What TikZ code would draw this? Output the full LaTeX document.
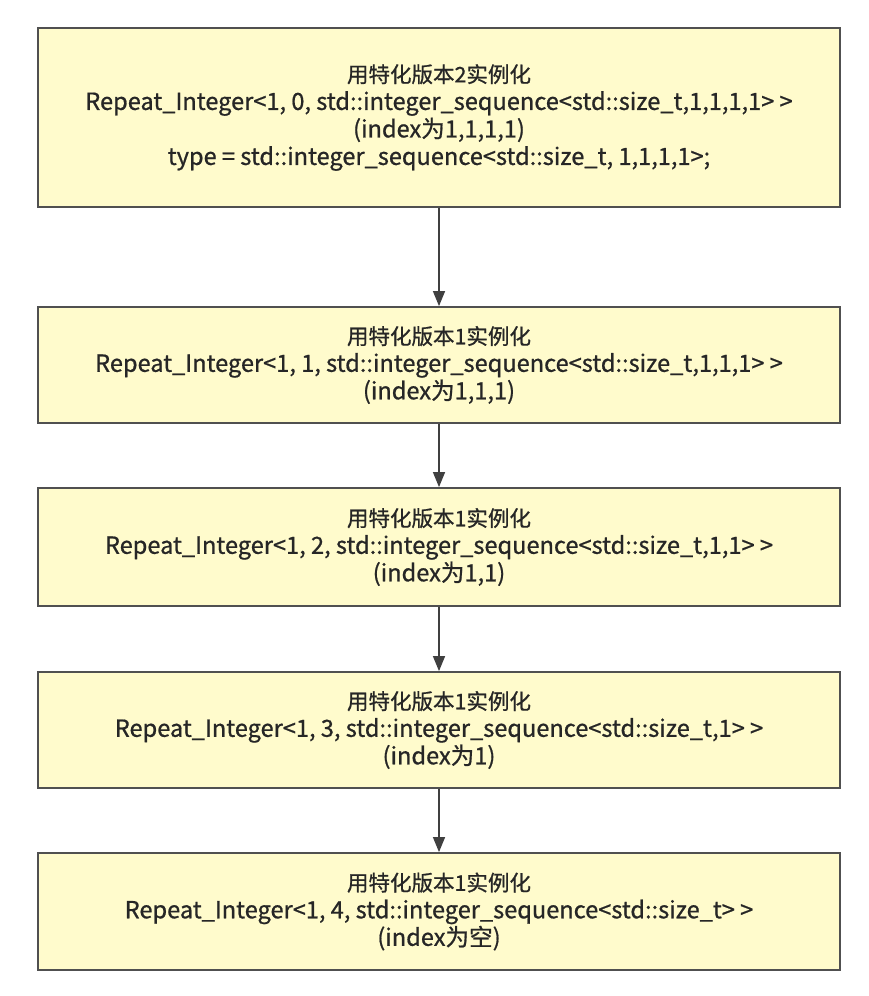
\documentclass[tikz,border=0pt]{standalone}
\usepackage{fontspec}
\setmainfont{Noto Sans CJK SC}[FakeBold=0.8]
\usetikzlibrary{arrows.meta}
\definecolor{boxfill}{HTML}{FFFBCC}
\definecolor{boxline}{HTML}{505050}
\newcommand{\zh}[1]{{\fontsize{21.5}{27.5}\selectfont #1}}

\begin{document}
\begin{tikzpicture}[x=1pt,y=-1pt]
\tikzset{inst/.style = {draw=boxline, line width=1.8pt, fill=boxfill, minimum width=802pt,
  align=center, font=\fontsize{23.6}{27.5}\selectfont, text=black!85}}
\tikzset{edge/.style = {-{Triangle[length=15pt,width=12pt]}, draw=black!75, fill=black!75, line width=1.3pt}}

\useasboundingbox (0,0) rectangle (868,996);

\node[inst, minimum height=179pt] (v0) at (439,117.5) {\zh{用特化版本2实例化}\\Repeat\_Integer<1, 0, std::integer\_sequence<std::size\_t,1,1,1,1> >\\(index为1,1,1,1)\\type = std::integer\_sequence<std::size\_t, 1,1,1,1>;};
\node[inst, minimum height=116pt] (v1) at (439,365) {\zh{用特化版本1实例化}\\Repeat\_Integer<1, 1, std::integer\_sequence<std::size\_t,1,1,1> >\\(index为1,1,1)};
\node[inst, minimum height=118pt] (v2) at (439,547) {\zh{用特化版本1实例化}\\Repeat\_Integer<1, 2, std::integer\_sequence<std::size\_t,1,1> >\\(index为1,1)};
\node[inst, minimum height=116pt] (v3) at (439,730) {\zh{用特化版本1实例化}\\Repeat\_Integer<1, 3, std::integer\_sequence<std::size\_t,1> >\\(index为1)};
\node[inst, minimum height=117pt] (v4) at (439,911.5) {\zh{用特化版本1实例化}\\Repeat\_Integer<1, 4, std::integer\_sequence<std::size\_t> >\\(index为空)};

\draw[edge] (v0) to (v1);
\draw[edge] (v1) to (v2);
\draw[edge] (v2) to (v3);
\draw[edge] (v3) to (v4);

\end{tikzpicture}
\end{document}
